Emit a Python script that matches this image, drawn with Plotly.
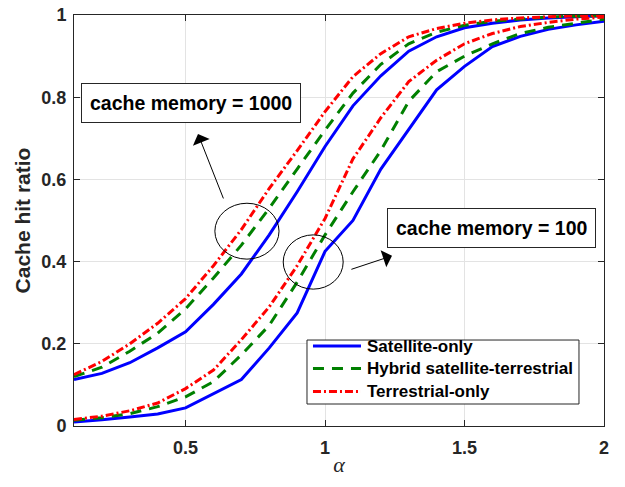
import plotly.graph_objects as go

alpha = [0.1, 0.2, 0.3, 0.4, 0.5, 0.6, 0.7, 0.8, 0.9, 1.0,
         1.1, 1.2, 1.3, 1.4, 1.5, 1.6, 1.7, 1.8, 1.9, 2.0]

# cache memory = 1000
sat_1000 = [0.113, 0.128, 0.154, 0.19, 0.229, 0.296, 0.37, 0.465, 0.57, 0.68,
            0.779, 0.852, 0.912, 0.947, 0.969, 0.98, 0.988, 0.993, 0.996, 0.998]
hyb_1000 = [0.12, 0.143, 0.182, 0.226, 0.285, 0.36, 0.44, 0.53, 0.625, 0.72,
            0.81, 0.88, 0.93, 0.958, 0.975, 0.985, 0.99, 0.995, 0.997, 0.998]
ter_1000 = [0.125, 0.157, 0.2, 0.25, 0.31, 0.39, 0.478, 0.578, 0.67, 0.765,
            0.85, 0.906, 0.947, 0.967, 0.98, 0.988, 0.993, 0.996, 0.998, 0.999]

# cache memory = 100
sat_100 = [0.01, 0.015, 0.022, 0.029, 0.044, 0.079, 0.113, 0.19, 0.275, 0.425,
           0.5, 0.625, 0.72, 0.818, 0.875, 0.923, 0.948, 0.965, 0.976, 0.985]
hyb_100 = [0.014, 0.02, 0.03, 0.047, 0.071, 0.108, 0.173, 0.245, 0.35, 0.465,
           0.57, 0.67, 0.79, 0.862, 0.9, 0.93, 0.955, 0.97, 0.98, 0.99]
ter_100 = [0.016, 0.024, 0.037, 0.056, 0.091, 0.136, 0.21, 0.29, 0.39, 0.505,
           0.65, 0.75, 0.838, 0.89, 0.93, 0.955, 0.972, 0.982, 0.99, 0.995]

series_names = ["Satellite-only", "Hybrid satellite-terrestrial", "Terrestrial-only"]
x_ticks = [0.5, 1, 1.5, 2]
x_tick_labels = ["0.5", "1", "1.5", "2"]
y_ticks = [0, 0.2, 0.4, 0.6, 0.8, 1]
y_tick_labels = ["0", "0.2", "0.4", "0.6", "0.8", "1"]

FONT = "Liberation Sans, Arial, Helvetica, sans-serif"
styles = [
    dict(color="#0000FF", width=3, dash="solid"),
    dict(color="#008000", width=3, dash="11px,8px"),
    dict(color="#FF0000", width=3, dash="8px,3px,2px,3px"),
]

fig = go.Figure()
for i, (ys, name) in enumerate(zip([sat_1000, hyb_1000, ter_1000], series_names)):
    fig.add_trace(go.Scatter(x=alpha, y=ys, mode="lines", name=name,
                             legendgroup=name, line=styles[i], showlegend=False))
for i, (ys, name) in enumerate(zip([sat_100, hyb_100, ter_100], series_names)):
    fig.add_trace(go.Scatter(x=alpha, y=ys, mode="lines", name=name,
                             legendgroup=name, line=styles[i], showlegend=False))

axis_common = dict(
    showline=True, linecolor="#262626", linewidth=1, mirror="ticks",
    ticks="inside", ticklen=6, tickcolor="#262626", automargin=False,
    ticklabeloverflow="allow",
    showgrid=True, gridcolor="#e3e3e3", gridwidth=1, zeroline=False,
    tickfont=dict(family=FONT, size=18, color="#262626", weight="bold"),
)

fig.update_layout(
    width=625, height=487,
    margin=dict(l=74, r=21, t=15, b=61),
    paper_bgcolor="white", plot_bgcolor="white",
    xaxis=dict(range=[0.1, 2], tickvals=x_ticks, ticktext=x_tick_labels,
               ticklabelstandoff=5,
               title=dict(text="α", font=dict(family="Liberation Serif, Times New Roman, serif",
                                                  size=22, color="#262626", style="italic"),
                          standoff=0),
               **axis_common),
    yaxis=dict(range=[0, 1], tickvals=y_ticks, ticktext=y_tick_labels,
               ticklabelstandoff=3,
               title=dict(text="Cache hit ratio", font=dict(family=FONT, size=21, color="#262626",
                                                            weight="bold"),
                          standoff=5),
               **axis_common),
    showlegend=False,
)

# legend (box, key lines and labels) drawn in paper coordinates
lg_x0, lg_x1, lg_y0, lg_y1 = 0.4396, 0.9528, 0.0535, 0.2092
row_y = [0.1946, 0.1399, 0.0839]
key_x0, key_x1, txt_x = 0.4509, 0.5415, 0.549
fig.add_shape(type="rect", xref="paper", yref="paper", x0=lg_x0, x1=lg_x1, y0=lg_y0, y1=lg_y1,
              line=dict(color="#262626", width=1), fillcolor="white", layer="above")
for i, name in enumerate(series_names):
    fig.add_shape(type="line", xref="paper", yref="paper", x0=key_x0, x1=key_x1,
                  y0=row_y[i], y1=row_y[i], line=styles[i], layer="above")
    fig.add_annotation(x=txt_x, y=row_y[i], xref="paper", yref="paper", text=name,
                       showarrow=False, xanchor="left", yanchor="middle",
                       font=dict(family=FONT, size=17, color="black", weight="bold"))

# ellipses
fig.add_shape(type="circle", xref="x", yref="y", x0=0.605, x1=0.835, y0=0.406, y1=0.542,
              line=dict(color="black", width=1))
fig.add_shape(type="circle", xref="x", yref="y", x0=0.85, x1=1.065, y0=0.333, y1=0.465,
              line=dict(color="black", width=1))

# arrows
fig.add_annotation(x=0.5445, y=0.7105, ax=0.6377, ay=0.55, xref="x", yref="y", axref="x", ayref="y",
                   text="", showarrow=True, arrowhead=1, arrowsize=3, arrowwidth=1, arrowcolor="black")
fig.add_annotation(x=1.24, y=0.414, ax=1.089, ay=0.38, xref="x", yref="y", axref="x", ayref="y",
                   text="", showarrow=True, arrowhead=1, arrowsize=3, arrowwidth=1, arrowcolor="black")

# text boxes
fig.add_annotation(x=0.519, y=0.787, xref="x", yref="y", text="cache memory = 1000",
                   showarrow=False, bgcolor="white", bordercolor="#262626", borderwidth=1,
                   borderpad=8, font=dict(family=FONT, size=19.5, color="black", weight="bold"))
fig.add_annotation(x=1.595, y=0.482, xref="x", yref="y", text="cache memory = 100",
                   showarrow=False, bgcolor="white", bordercolor="#262626", borderwidth=1,
                   borderpad=8, font=dict(family=FONT, size=19.5, color="black", weight="bold"))

fig.write_html("out.html", config={"displayModeBar": False},
               post_script="document.body.style.margin='0px';")
